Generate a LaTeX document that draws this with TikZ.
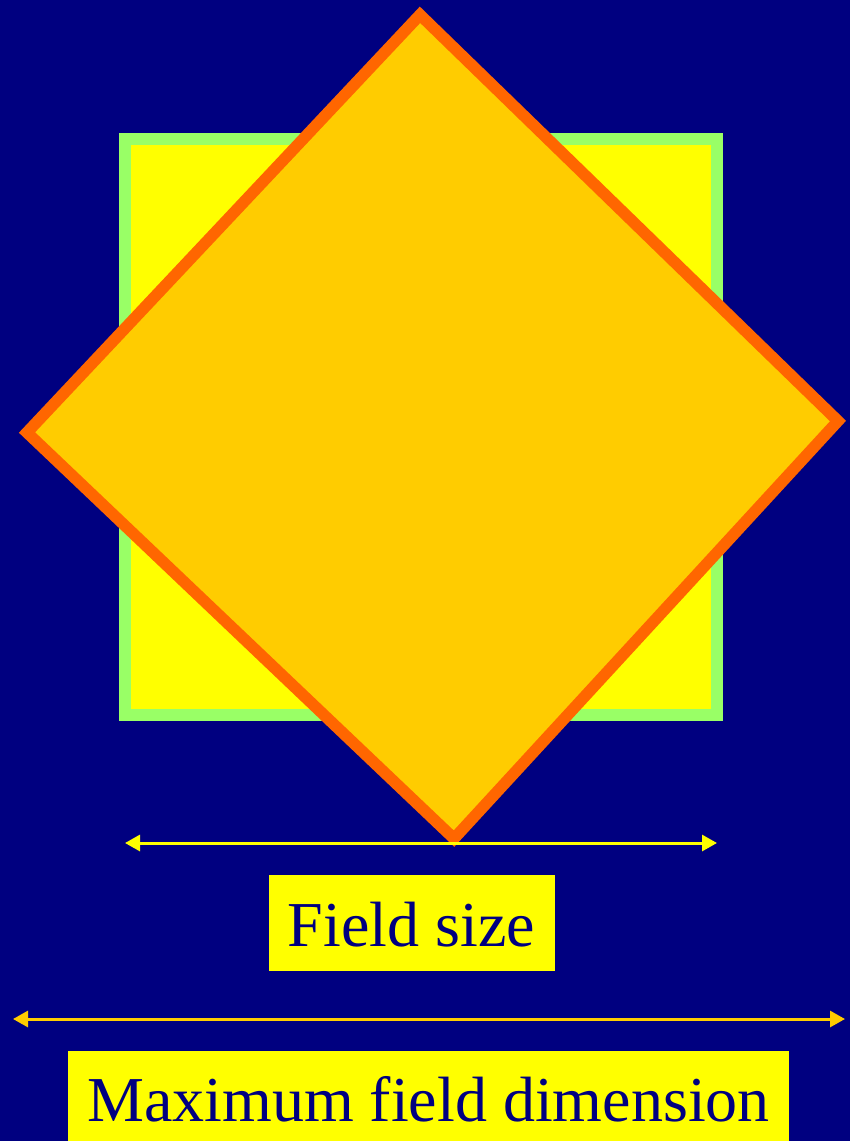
\documentclass[tikz,border=0pt]{standalone}
\usepackage{fontspec}
\setmainfont{Liberation Serif}
\usetikzlibrary{arrows.meta}
\definecolor{bgnavy}{HTML}{000080}
\definecolor{fieldgreen}{HTML}{99FF66}
\definecolor{fieldyellow}{HTML}{FFFF00}
\definecolor{diamondfill}{HTML}{FFCC00}
\definecolor{diamondedge}{HTML}{FF6600}
\definecolor{goldline}{HTML}{FFCC00}
\tikzset{
  fieldsquare/.style={draw=fieldgreen, fill=fieldyellow, line width=12pt, line join=miter},
  rotfield/.style={draw=diamondedge, fill=diamondfill, line width=11.5pt, line join=miter},
  dimarrow/.style={line width=3pt, {Triangle[length=15pt,width=16pt]}-{Triangle[length=15pt,width=16pt]}},
  labelbox/.style={fill=fieldyellow, text=bgnavy, inner sep=0pt, anchor=base,
    font=\fontsize{64}{70}\selectfont}
}
\begin{document}
\begin{tikzpicture}[x=1pt,y=-1pt]
  \fill[bgnavy] (0,0) rectangle (850,1141);
  \useasboundingbox (0,0) rectangle (850,1141);
  % square field
  \draw[fieldsquare] (125,139) rectangle (717,715);
  % rotated field
  \draw[rotfield] (420,14.8) -- (838,421) -- (454,838.6) -- (27,432.5) -- cycle;
  % field size arrow
  \coordinate (fsL) at (125,843);
  \coordinate (fsR) at (717,843);
  \draw[dimarrow, fieldyellow] (fsL) -- (fsR);
  \node[labelbox, text height=71.5pt, text depth=24pt, minimum width=286pt] (fslabel) at (411.5,946.5) {Field size};
  % maximum dimension arrow
  \coordinate (mdL) at (13,1019);
  \coordinate (mdR) at (845,1019);
  \draw[dimarrow, goldline] (mdL) -- (mdR);
  \node[labelbox, text height=70.5pt, text depth=40pt, minimum width=721pt] (mdlabel) at (428.5,1121.5) {Maximum field dimension};
\end{tikzpicture}
\end{document}
